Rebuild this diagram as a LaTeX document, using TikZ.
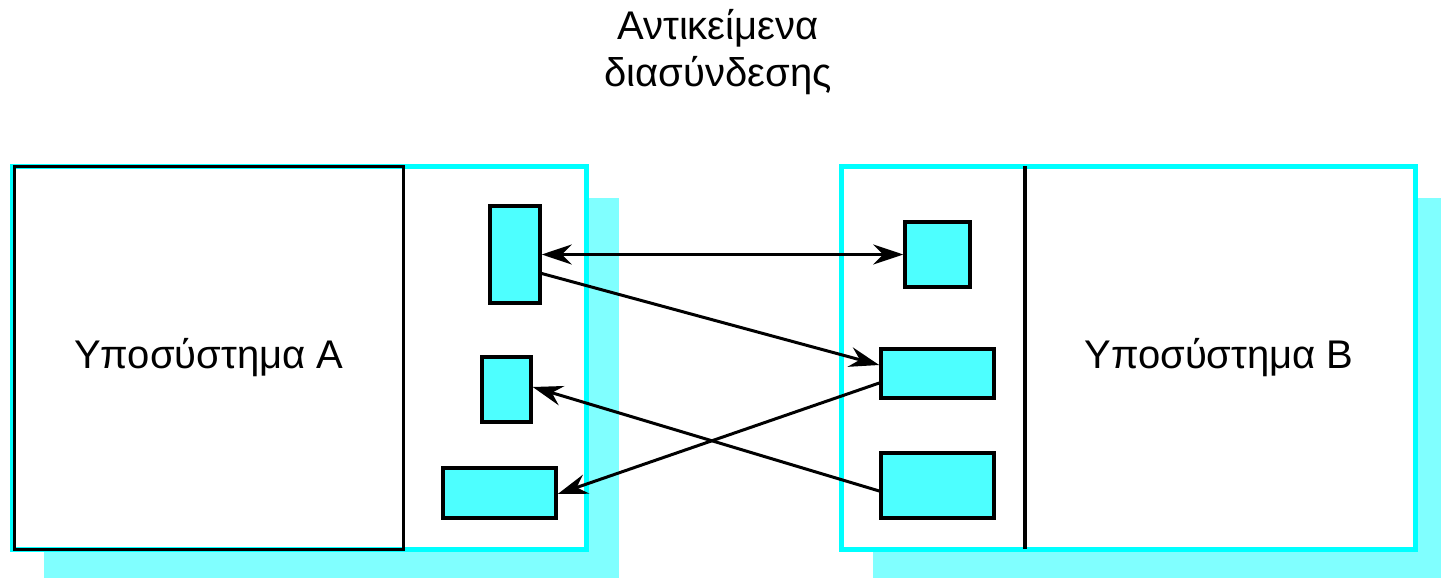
\documentclass[tikz,border=0pt]{standalone}
\usepackage{fontspec}
\setmainfont{Liberation Sans}
\usetikzlibrary{arrows.meta}
\definecolor{rim}{HTML}{00FFFF}
\definecolor{dropcyan}{HTML}{80FFFF}
\definecolor{port}{HTML}{4DFFFF}
\begin{document}
\begin{tikzpicture}[x=1pt,y=-1pt,
  portbox/.style={draw=black,fill=port,line width=3.5pt,inner sep=0pt},
  tip/.tip={Stealth[length=30pt,width=20pt,inset=10pt]},
  link/.style={line width=3pt,-tip},
  bilink/.style={line width=3pt,tip-tip},
  frame/.style={draw=rim,fill=white,line width=5pt},
  label/.style={font=\fontsize{40}{47}\selectfont}]
\useasboundingbox (0,0) rectangle (1441,578);

% drop shadows behind the two subsystem frames
\fill[dropcyan] (44,198) rectangle (619,578);
\fill[dropcyan] (873,198) rectangle (1441,578);

% subsystem frames
\draw[frame] (12,166.5) rectangle (586.5,549.5);
\draw[frame] (841.5,166.5) rectangle (1415.5,549.5);

% subsystem A core and subsystem B divider
\node[draw=black,line width=3pt,minimum width=389.5pt,minimum height=383pt,
      inner sep=0pt,label] (subA) at (208.75,357.5) {Υποσύστημα A};
\node[label] (subB) at (1219,357.5) {Υποσύστημα B};
\draw[line width=3.5pt] (1025,166) -- (1025,549);

% title
\node[label,align=center] (title) at (718,52) {Αντικείμενα\\διασύνδεσης};

% interface objects of subsystem A
\node[portbox,minimum width=50pt,minimum height=97pt] (a1) at (515,254.5) {};
\node[portbox,minimum width=49pt,minimum height=65pt] (a2) at (506.5,389.5) {};
\node[portbox,minimum width=113pt,minimum height=50pt] (a3) at (499.5,493) {};

% interface objects of subsystem B
\node[portbox,minimum width=65pt,minimum height=65pt] (b1) at (937.5,254.5) {};
\node[portbox,minimum width=113pt,minimum height=49pt] (b2) at (937.5,373.5) {};
\node[portbox,minimum width=113pt,minimum height=65pt] (b3) at (937.5,485.5) {};

% connections
\draw[bilink] (a1.east) -- (b1.west);
\draw[link] ([yshift=-19pt]a1.east) -- ([yshift=8.5pt]b2.west);
\draw[link] ([yshift=-9.5pt]b2.west) -- ([yshift=-1pt]a3.east);
\draw[link] ([yshift=-5.5pt]b3.west) -- ([yshift=2.5pt]a2.east);
\end{tikzpicture}
\end{document}
